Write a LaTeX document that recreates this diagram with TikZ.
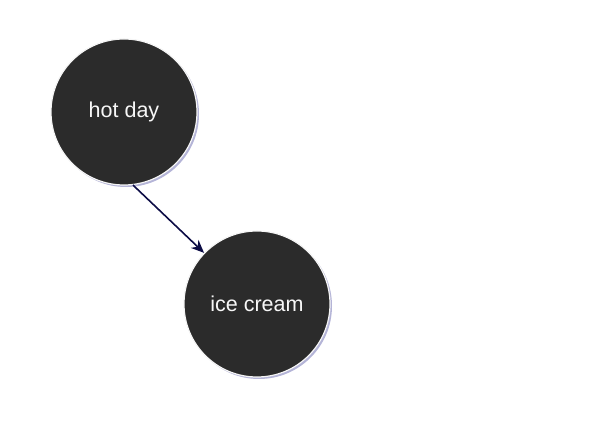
\documentclass[tikz,border=0pt]{standalone}
\usepackage{fontspec}
\setmainfont{Liberation Sans}
\usetikzlibrary{arrows.meta,shadows}
\definecolor{nodefill}{HTML}{2B2B2B}
\definecolor{edgecol}{HTML}{0C0C45}
\tikzset{
  event/.style={circle,fill=nodefill,draw=white!92!gray,line width=1.2pt,
    minimum size=146pt,inner sep=0pt,text=white!94!gray,
    font=\fontsize{21.5}{26}\selectfont,
    drop shadow={shadow xshift=2pt,shadow yshift=-2pt,fill=blue!30!gray,opacity=0.45}},
  cause/.style={-{Stealth[length=13pt,width=11pt]},draw=edgecol,line width=1.6pt}
}
\begin{document}
\begin{tikzpicture}[x=1pt,y=1pt]
  \useasboundingbox (0,0) rectangle (605,446); %Page frame

  \node[event] (hot) at (124,334) {hot day};    %Cause
  \node[event] (ice) at (257,142) {ice cream};  %Effect

  \draw[cause] (hot.-83) -- (ice.136) ;         %Arrow
\end{tikzpicture}
\end{document}
